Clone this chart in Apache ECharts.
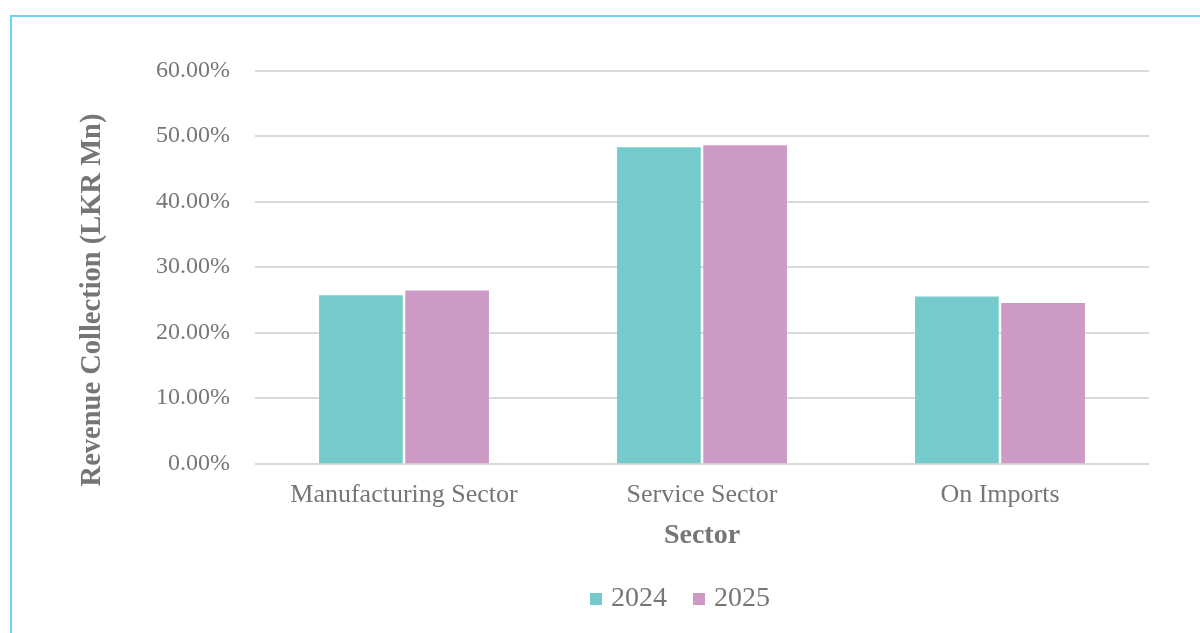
<!DOCTYPE html>
<html>
<head>
<meta charset="utf-8">
<script src="https://cdn.jsdelivr.net/npm/echarts@6/dist/echarts.min.js"></script>
<style>
html,body{margin:0;padding:0;background:#fff;}
#frame{position:absolute;left:10px;top:15px;width:1200px;height:640px;border-left:2.5px solid #6ad2f7;border-top:2.5px solid #6ad2f7;box-sizing:border-box;pointer-events:none;z-index:2;}
#chart{position:absolute;left:0;top:0;width:1200px;height:633px;}
</style>
</head>
<body>
<div id="chart"></div>
<div id="frame"></div>
<script>
const categories = ['Manufacturing Sector', 'Service Sector', 'On Imports'];
const values2024 = [25.7, 48.3, 25.5];
const values2025 = [26.4, 48.6, 24.5];
const seriesNames = ['2024', '2025'];
const yTicks = [0, 10, 20, 30, 40, 50, 60];

const txt = '#767676';
const serif = '"Liberation Serif", "Times New Roman", serif';
const chart = echarts.init(document.getElementById('chart'));
chart.setOption({
  backgroundColor: '#fff',
  animation: false,
  grid: { left: 255, right: 51, top: 70.7, bottom: 169.7 },
  legend: {
    data: seriesNames,
    left: 585, top: 580,
    itemWidth: 12, itemHeight: 12, itemGap: 26,
    icon: 'rect',
    textStyle: { fontFamily: serif, fontSize: 28, color: txt, padding: [0, 0, 0, 4] }
  },
  xAxis: {
    type: 'category',
    data: categories,
    name: 'Sector',
    nameLocation: 'middle',
    nameGap: 58,
    nameTextStyle: { fontFamily: serif, fontSize: 28, fontWeight: 'bold', color: txt },
    axisLine: { show: false },
    axisTick: { show: false },
    axisLabel: { fontFamily: serif, fontSize: 26, color: txt, margin: 19 }
  },
  yAxis: {
    type: 'value',
    min: yTicks[0], max: yTicks[yTicks.length - 1], interval: 10,
    axisLine: { show: false },
    axisTick: { show: false },
    splitLine: { lineStyle: { color: '#d9d9d9', width: 2 } },
    axisLabel: { fontFamily: serif, fontSize: 24, color: txt, margin: 25, padding: [3, 0, 0, 0],
      formatter: v => v.toFixed(2) + '%' }
  },
  graphic: [{
    type: 'text',
    x: 93, y: 300,
    rotation: Math.PI / 2,
    style: {
      text: 'Revenue Collection (LKR Mn)',
      fontFamily: serif, fontSize: 28.5, fontWeight: 'bold', fill: txt,
      textAlign: 'center', textVerticalAlign: 'middle'
    }
  }],
  series: [
    { name: seriesNames[0], type: 'bar', data: values2024, barCategoryGap: '43%', barGap: '3%',
      itemStyle: { color: '#75cbcc' } },
    { name: seriesNames[1], type: 'bar', data: values2025, barCategoryGap: '43%', barGap: '3%',
      itemStyle: { color: '#cd9ac6' } }
  ]
});
</script>
</body>
</html>
